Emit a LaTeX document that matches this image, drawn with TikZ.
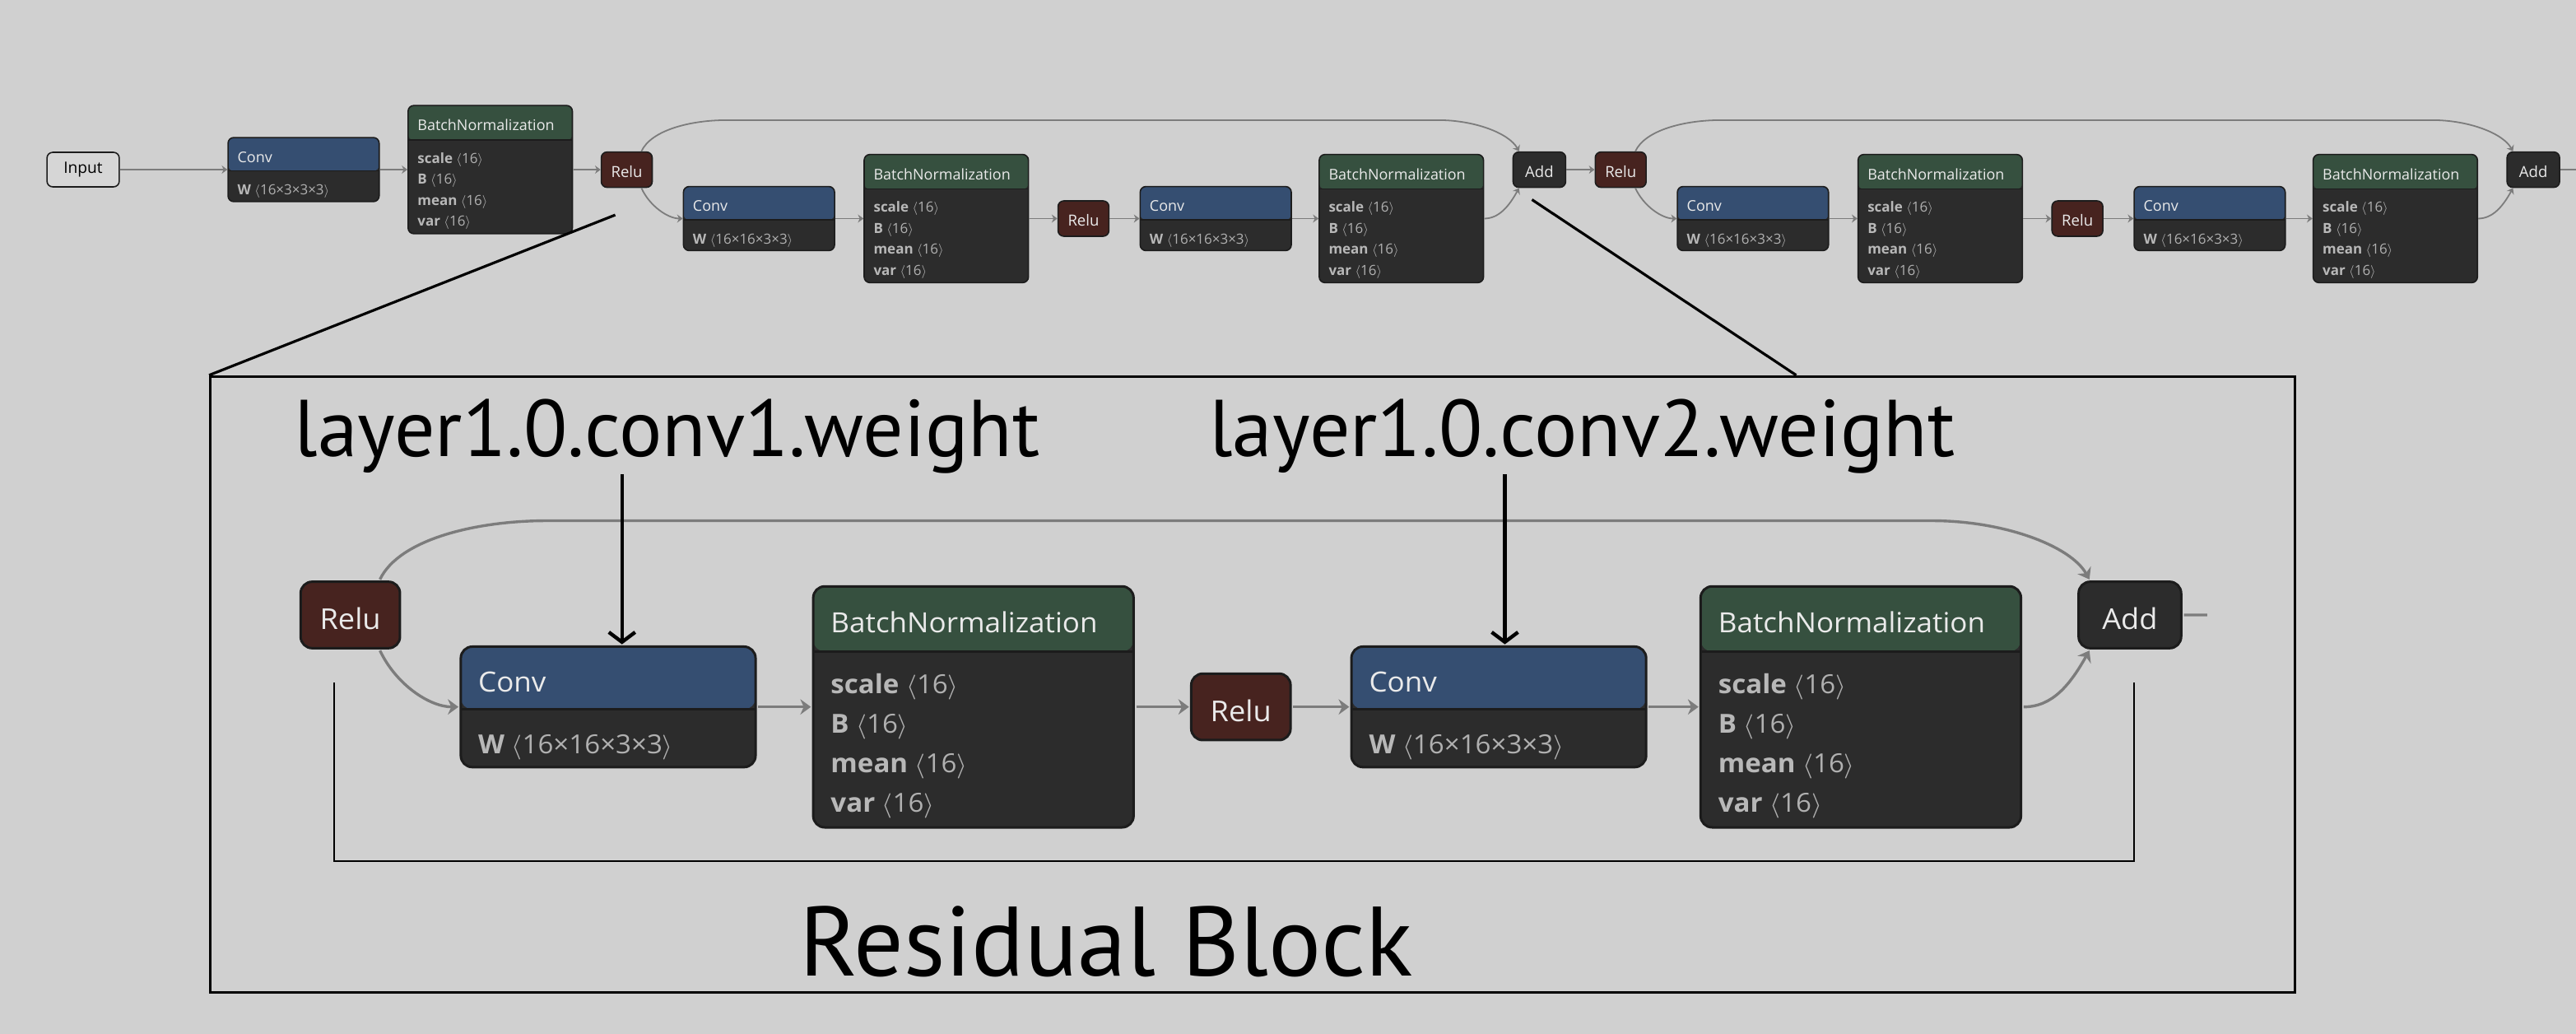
\documentclass[tikz,border=0pt]{standalone}
\usepackage{fontspec}
\setmainfont{Open Sans}
\newfontfamily\rotulofont{PT Sans}
\usetikzlibrary{positioning, arrows.meta, calc}
\definecolor{fondo}{HTML}{D0D0D0}
\definecolor{cuerpo}{HTML}{2C2C2C}
\definecolor{borde}{HTML}{1C1C1C}
\definecolor{convcab}{HTML}{354E71}
\definecolor{bncab}{HTML}{36503F}
\definecolor{relufondo}{HTML}{47231F}
\definecolor{arista}{HTML}{7C7C7C}
\definecolor{texto}{HTML}{EAEAEA}
\definecolor{clave}{HTML}{B8B8B8}
\definecolor{valor}{HTML}{B0B0B0}
\definecolor{entrada}{HTML}{D6D6D6}

\newcommand{\atributo}[2]{{\bfseries\color{clave}#1}\ {\color{valor}$\langle$#2$\rangle$}}

\tikzset{
  opw/.style={line width=0.8pt},
  opr/.style={rounded corners=3.5pt},
  edgew/.style={line width=0.9pt},
  op/.style={draw=borde, opw, opr, inner sep=0pt},
  cabecera/.style 2 args={path picture={
      \fill[#1] (path picture bounding box.north west) rectangle
        ($(path picture bounding box.north east)!#2!(path picture bounding box.south east)$);
      \draw[borde, opw] ($(path picture bounding box.north west)!#2!(path picture bounding box.south west)$)
        -- ($(path picture bounding box.north east)!#2!(path picture bounding box.south east)$);}},
  convbox/.style={op, fill=cuerpo, minimum width=92pt, minimum height=39pt, cabecera={convcab}{0.52}},
  bnbox/.style={op, fill=cuerpo, minimum width=100pt, minimum height=78pt, cabecera={bncab}{0.27}},
  relubox/.style={op, fill=relufondo, minimum width=31pt, minimum height=21.5pt, text=texto,
    font=\fontsize{9.3}{11}\selectfont, text height=9.5pt, text depth=0pt},
  addbox/.style={relubox, fill=cuerpo, minimum width=32pt},
  inputbox/.style={op, fill=entrada, minimum width=44pt, minimum height=21pt, text=black,
    font=\fontsize{9.6}{11}\selectfont},
  titulo/.style={anchor=west, inner sep=0pt, text=texto, font=\fontsize{9}{11}\selectfont},
  atrib/.style={anchor=west, inner sep=0pt, font=\fontsize{8.5}{10}\selectfont,
    text height=6pt, text depth=1.8pt},
  arista/.style={draw=arista, edgew, -{Stealth[length=0pt 3.8, width=0pt 5.5]}},
  marco/.style={draw=black, line width=1.4pt, inner sep=0pt},
  flecha/.style={draw=black, line width=2.2pt, -{Straight Barb[length=6pt, width=16pt]}},
  rotulo/.style={anchor=base, inner sep=0pt, font=\rotulofont\fontsize{49}{52}\selectfont}
}

% Conv and BatchNormalization boxes
\newcommand{\convnodo}[3]{%
  \node[convbox] (#1) at #2 {};
  \node[titulo] (#1-t) at ($(#1.north west)+(6,12.3)$) {Conv};
  \node[atrib] (#1-w) at ($(#1.north west)+(6,33.3)$) {\atributo{W}{#3}};
}
\newcommand{\bnnodo}[2]{%
  \node[bnbox] (#1) at #2 {};
  \node[titulo] (#1-t) at ($(#1.north west)+(6,12.3)$) {BatchNormalization};
  \foreach \clave [count=\i] in {scale, B, mean, var}
    \node[atrib] (#1-\i) at ($(#1.north west)+(6,20.6+12.8*\i)$) {\atributo{\clave}{16}};
}
% one residual block, origin at the top left of its first Relu
\newcommand{\bloque}[1]{%
  \node[relubox] (#1-r1) at (15.5,10.75) {Relu};
  \convnodo{#1-c1}{(96,40.5)}{16×16×3×3}
  \bnnodo{#1-b1}{(210,40.5)}
  \node[relubox] (#1-r2) at (293.5,40.5) {Relu};
  \convnodo{#1-c2}{(374,40.5)}{16×16×3×3}
  \bnnodo{#1-b2}{(487,40.5)}
  \node[addbox] (#1-add) at (571,10.75) {Add};
  \draw[arista] ($(#1-r1.south east)+(-7,0)$) .. controls +(5,11) and +(-9,0) .. (#1-c1.west);
  \draw[arista] (#1-c1.east) -- (#1-b1.west);
  \draw[arista] (#1-b1.east) -- (#1-r2.west);
  \draw[arista] (#1-r2.east) -- (#1-c2.west);
  \draw[arista] (#1-c2.east) -- (#1-b2.west);
  \draw[arista] (#1-b2.east) .. controls +(9,0) and +(-6,11) .. ($(#1-add.south west)+(4,0)$);
  \draw[arista] ($(#1-r1.north east)+(-7,0)$) .. controls +(6,-13) and +(-22,0) .. ($(#1-r1.north east)+(45,-19)$)
    -- ($(#1-add.north west)+(-45,-19)$) .. controls +(22,0) and +(-6,-11) .. ($(#1-add.north west)+(4,0)$);
}

\begin{document}
\begin{tikzpicture}[x=1pt, y=-1pt]
  \fill[fondo] (0,0) rectangle (1568,629);
  \useasboundingbox (0,0) rectangle (1568,629);

  % top row
  \node[inputbox] (input) at (50.6,103.2) {Input};
  \convnodo{conv0}{(184.8,103.2)}{16×3×3×3}
  \bnnodo{bn0}{(298.4,103.2)}
  \foreach \b/\x in {A/366, B/971}{
    \begin{scope}[shift={(\x,92.5)}]
      \bloque{\b}
    \end{scope}
  }
  \coordinate (salida) at (1568,103.25);
  \draw[arista] (input) -- (conv0);
  \draw[arista] (conv0) -- (bn0);
  \draw[arista] (bn0) -- (A-r1);
  \draw[arista] (A-add) -- (B-r1);
  \draw[draw=arista, edgew] (B-add) -- (salida);

  % zoomed block
  \begin{scope}[shift={(183,354)}, xscale=1.95, yscale=1.88, transform shape,
      opw/.style={line width=1.5pt}, opr/.style={rounded corners=7pt}, edgew/.style={line width=1.7pt}]
    \bloque{Z}
    \coordinate (zsalida) at (595,10.75);
    \draw[draw=arista, edgew] (Z-add) -- (zsalida);
  \end{scope}

  \node[marco, minimum width=1269pt, minimum height=375pt] (zona) at (762.5,416.5) {};
  \coordinate (zi) at (374.5,130.8);
  \coordinate (zd) at (932.5,121.5);
  \draw[black, line width=1.6pt] (zi) -- (zona.north west);
  \draw[black, line width=1.6pt] (zd) -- ($(zona.north west)!0.7604!(zona.north east)$);
  \draw[black, line width=1.2pt] (203.3,415.5) |- (1299,524) -- (1299,415.5);

  \node[rotulo] (peso1) at (406,278) {layer1.0.conv1.weight};
  \node[rotulo] (peso2) at (963,278) {layer1.0.conv2.weight};
  \node[rotulo, font=\rotulofont\fontsize{60}{64}\selectfont] (titulo) at (673.4,594) {Residual Block};
  \coordinate (x1) at (378.6,0);
  \coordinate (x2) at (916,0);
  \draw[flecha] (x1 |- peso1.south) -- (x1 |- Z-c1.north);
  \draw[flecha] (x2 |- peso2.south) -- (x2 |- Z-c2.north);
\end{tikzpicture}
\end{document}
